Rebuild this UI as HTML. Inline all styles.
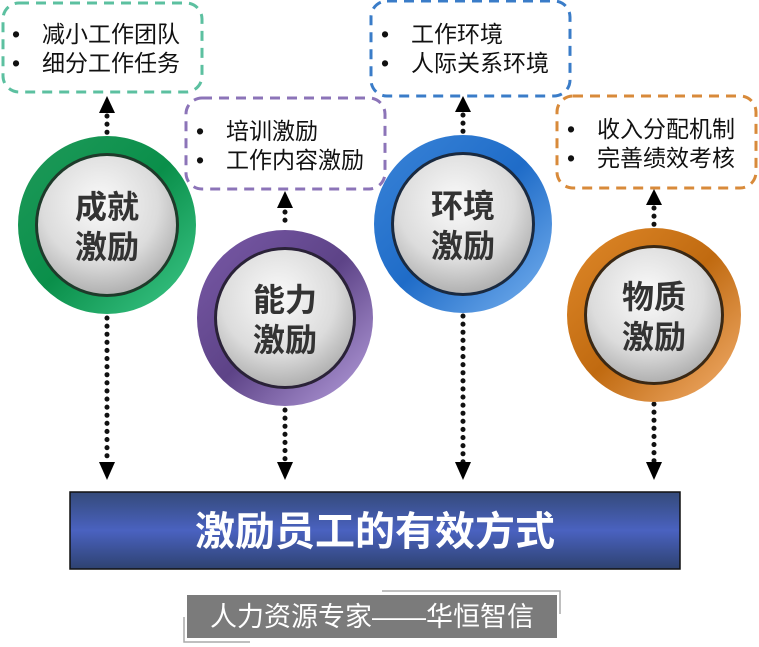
<!DOCTYPE html>
<html><head><meta charset="utf-8"><style>
body{margin:0;background:#fff}
svg{display:block;font-family:"Liberation Sans","Noto Sans CJK SC",sans-serif}
</style></head><body>
<svg width="759" height="647" viewBox="0 0 759 647" xmlns="http://www.w3.org/2000/svg">
<defs>
<radialGradient id="g" cx="0.45" cy="0.35" r="0.7"><stop offset="0" stop-color="#fafafa"/><stop offset="0.6" stop-color="#dcdcdc"/><stop offset="1" stop-color="#a8a8a8"/></radialGradient>
<linearGradient id="cg" x1="0" y1="0" x2="1" y2="1"><stop offset="0" stop-color="#1f9a5a"/><stop offset="0.5" stop-color="#0a8f4a"/><stop offset="1" stop-color="#3ec98a"/></linearGradient>
<linearGradient id="cp" x1="0" y1="0" x2="1" y2="1"><stop offset="0" stop-color="#7a5aa8"/><stop offset="0.5" stop-color="#5d4387"/><stop offset="1" stop-color="#b9a2e0"/></linearGradient>
<linearGradient id="cb" x1="0" y1="0" x2="1" y2="1"><stop offset="0" stop-color="#3a84d8"/><stop offset="0.5" stop-color="#1f6cc8"/><stop offset="1" stop-color="#7ab3f0"/></linearGradient>
<linearGradient id="co" x1="0" y1="0" x2="1" y2="1"><stop offset="0" stop-color="#e0892a"/><stop offset="0.5" stop-color="#c06a10"/><stop offset="1" stop-color="#f4b070"/></linearGradient>
<linearGradient id="bn" x1="0" y1="0" x2="0" y2="1"><stop offset="0" stop-color="#344a7a"/><stop offset="0.5" stop-color="#4a62c0"/><stop offset="1" stop-color="#2e4270"/></linearGradient>
</defs>

<g fill="none" stroke-width="3" stroke-dasharray="10 7">
<rect x="3" y="3" width="199" height="89" rx="16" stroke="#5cc0a0"/>
<rect x="186" y="98" width="199" height="91" rx="16" stroke="#8c74b8"/>
<rect x="371" y="1" width="199" height="95" rx="16" stroke="#3a7cc8"/>
<rect x="557" y="96" width="199" height="92" rx="16" stroke="#d88a3a"/>
</g>
<g font-size="23" fill="#111">
<text x="12" y="42">•</text><text x="42" y="42">减小工作团队</text>
<text x="12" y="71">•</text><text x="42" y="71">细分工作任务</text>
<text x="196" y="139">•</text><text x="226" y="139">培训激励</text>
<text x="196" y="168">•</text><text x="226" y="168">工作内容激励</text>
<text x="381" y="42">•</text><text x="411" y="42">工作环境</text>
<text x="381" y="71">•</text><text x="411" y="71">人际关系环境</text>
<text x="567" y="137">•</text><text x="597" y="137">收入分配机制</text>
<text x="567" y="166">•</text><text x="597" y="166">完善绩效考核</text>
</g>

<g stroke="#111" stroke-width="5" stroke-dasharray="0.1 8" stroke-linecap="round" fill="none">
<line x1="107" y1="116" x2="107" y2="134"/><line x1="285" y1="212" x2="285" y2="228"/>
<line x1="463" y1="115" x2="463" y2="134"/><line x1="654" y1="208" x2="654" y2="226"/>
<line x1="107" y1="318" x2="107" y2="462"/><line x1="285" y1="410" x2="285" y2="462"/>
<line x1="463" y1="316" x2="463" y2="462"/><line x1="654" y1="404" x2="654" y2="462"/>
</g>
<g fill="#000">
<polygon points="99,113 115,113 107,96"/><polygon points="277,208 293,208 285,191"/>
<polygon points="455,112 471,112 463,96"/><polygon points="646,205 662,205 654,189"/>
<polygon points="99,462 115,462 107,480"/><polygon points="277,462 293,462 285,480"/>
<polygon points="455,462 471,462 463,480"/><polygon points="646,462 662,462 654,480"/>
</g>

<g>
<circle cx="107" cy="225" r="89" fill="url(#cg)"/><circle cx="107" cy="225" r="72" fill="#1e3a2a"/><circle cx="107" cy="225" r="69" fill="url(#g)"/>
<circle cx="285" cy="318" r="88" fill="url(#cp)"/><circle cx="285" cy="318" r="71" fill="#2a2238"/><circle cx="285" cy="318" r="68" fill="url(#g)"/>
<circle cx="463" cy="224" r="89" fill="url(#cb)"/><circle cx="463" cy="224" r="72" fill="#1a2a40"/><circle cx="463" cy="224" r="69" fill="url(#g)"/>
<circle cx="654" cy="315" r="87" fill="url(#co)"/><circle cx="654" cy="315" r="70" fill="#3a2814"/><circle cx="654" cy="315" r="67" fill="url(#g)"/>
</g>
<g font-size="32" font-weight="bold" fill="#333" text-anchor="middle">
<text x="107" y="218">成就</text><text x="107" y="258">激励</text>
<text x="285" y="311">能力</text><text x="285" y="351">激励</text>
<text x="463" y="217">环境</text><text x="463" y="257">激励</text>
<text x="654" y="308">物质</text><text x="654" y="348">激励</text>
</g>

<rect x="70" y="492" width="610" height="77" fill="url(#bn)" stroke="#111" stroke-width="1.5"/>
<text x="375" y="545" font-size="40" font-weight="bold" fill="#fff" text-anchor="middle">激励员工的有效方式</text>

<rect x="187" y="595" width="370" height="43" fill="#7b7b7b"/>
<text x="372" y="626" font-size="27" fill="#fff" text-anchor="middle">人力资源专家——华恒智信</text>
<polyline points="382,591 560,591 560,614" fill="none" stroke="#aaa" stroke-width="1.5"/>
<polyline points="184,617 184,642 250,642" fill="none" stroke="#aaa" stroke-width="1.5"/>
</svg>
</body></html>
